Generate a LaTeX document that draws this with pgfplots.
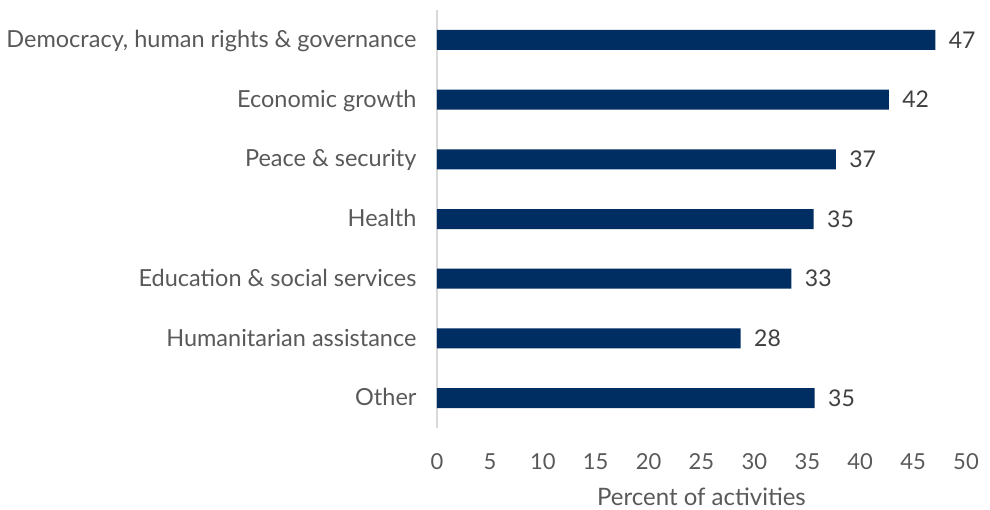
\documentclass[border=0pt]{standalone}
\usepackage{fontspec}
\setmainfont{Lato}
\usepackage{pgfplots}
\pgfplotsset{compat=1.18}
\definecolor{barc}{RGB}{0,45,98}
\definecolor{tickc}{RGB}{89,89,89}
\definecolor{valc}{RGB}{64,64,64}
\definecolor{axc}{RGB}{217,217,217}
\begin{document}
\begin{tikzpicture}[x=1pt,y=1pt]
\useasboundingbox (-437,-82) rectangle (553,428);
\begin{axis}[
  at={(0,0)}, anchor=south west,
  scale only axis, width=529pt, height=418pt,
  xbar, bar width=20pt,
  xmin=0, xmax=50, ymin=-0.5, ymax=6.5, y dir=reverse,
  ytick={0,...,6},
  yticklabels={{Democracy, human rights \& governance}, {Economic growth}, {Peace \& security}, {Health}, {Education \& social services}, {Humanitarian assistance}, {Other}},
  xtick={0,5,...,50},
  axis lines=left,
  axis line style={-},
  x axis line style={draw=none},
  y axis line style={draw=axc, line width=1.5pt},
  major tick length=0pt,
  tick style={draw=none},
  typeset ticklabels with strut,
  /pgf/number format/assume math mode=true,
  xticklabel style={font=\fontsize{22}{26}\selectfont, text=tickc, yshift=-20pt},
  yticklabel style={font=\fontsize{23.5}{28}\selectfont, text=tickc, xshift=-17pt, yshift=-2pt},
  xlabel={Percent of activities},
  xlabel style={font=\fontsize{24}{28}\selectfont, text=tickc, yshift=-4pt},
  nodes near coords,
  nodes near coords style={font=\fontsize{23}{27}\selectfont, text=valc, anchor=west, xshift=10pt},
  point meta=explicit symbolic,
  clip=false,
]
\addplot[fill=barc, draw=none] table[meta=lab] {
x y lab
47.1 0 47
42.7 1 42
37.7 2 37
35.6 3 35
33.5 4 33
28.7 5 28
35.7 6 35
};
\end{axis}
\end{tikzpicture}
\end{document}
